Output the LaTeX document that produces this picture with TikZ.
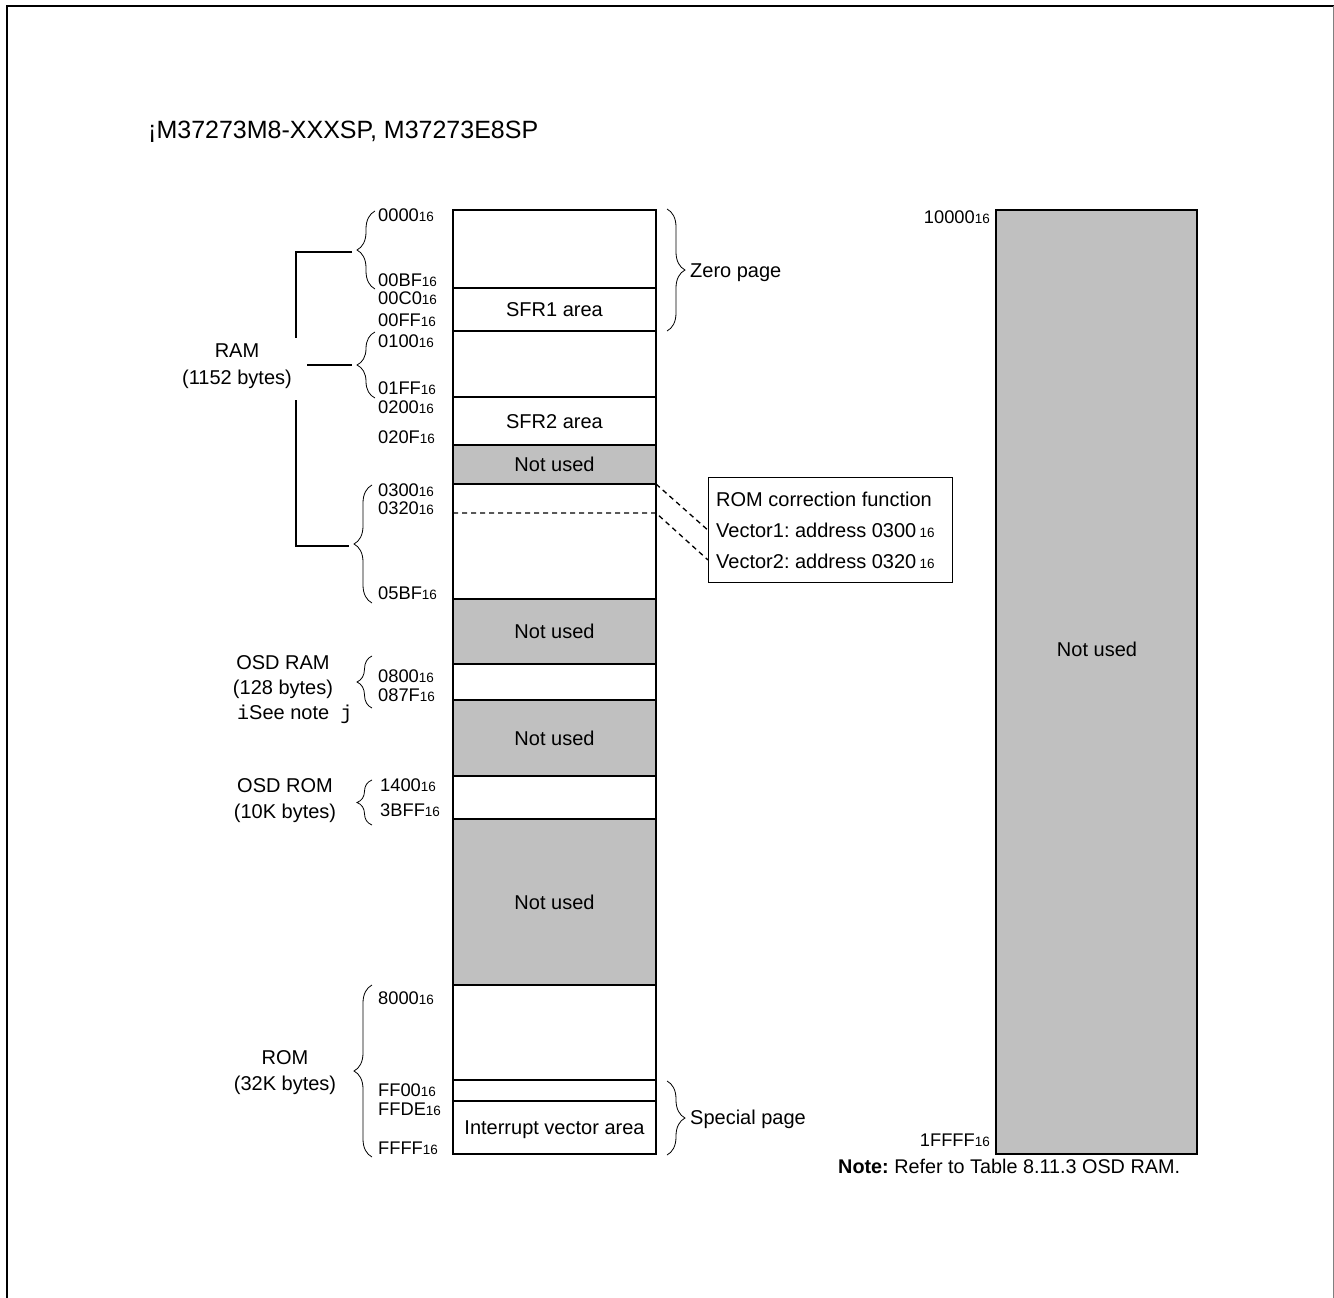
\documentclass[tikz,border=0pt]{standalone}
\usepackage{fontspec}
\setmainfont{Liberation Sans}
\newfontfamily\monofnt{Liberation Mono}
\usetikzlibrary{decorations.pathreplacing}
\definecolor{lgray}{RGB}{192,192,192}
\newcommand\sx[1]{{\fontsize{13.5}{13.5}\selectfont #1}}
\frenchspacing
\begin{document}
\frenchspacing
\begin{tikzpicture}[x=1pt,y=-1pt,
  blk/.style={draw=black, line width=1.9pt, minimum width=203pt, inner sep=0pt, outer sep=0pt,
    anchor=north west, font=\fontsize{20}{20}\selectfont, text height=14.3pt, text depth=0pt},
  unused/.style={blk, fill=lgray},
  lbl/.style={inner sep=0pt, font=\fontsize{20}{20}\selectfont, text height=14.3pt, text depth=0pt},
  addr/.style={inner sep=0pt, anchor=west, font=\fontsize{18.3}{18.3}\selectfont, text height=13pt, text depth=0pt},
  brc/.style={decorate, decoration={brace, amplitude=18pt}, line width=0.8pt},
  sbrc/.style={decorate, decoration={brace, amplitude=15pt}, line width=0.8pt},
  conn/.style={line width=1.2pt},
  dsh/.style={line width=1.3pt, dash pattern=on 5pt off 4pt}]
\useasboundingbox (0,0) rectangle (1334,1298);
\fill[white] (0,0) rectangle (1334,1298);
% frame
\draw[line width=2.5pt] (7,1299) -- (7,6) -- (1334,6);
\draw[line width=1pt, gray] (1333,6) -- (1333,1299);

% title
\node[anchor=base west, inner sep=0pt, font=\fontsize{25}{25}\selectfont] (title) at (148,139) {¡M37273M8-XXXSP, M37273E8SP};

% memory map column
\node[blk, minimum height=78pt] (b1) at (453,210) {};
\node[blk, minimum height=43pt] (b2) at (453,288) {SFR1 area};
\node[blk, minimum height=66pt] (b3) at (453,331) {};
\node[blk, minimum height=48pt] (b4) at (453,397) {SFR2 area};
\node[unused, minimum height=39pt] (b5) at (453,445) {Not used};
\node[blk, minimum height=115pt] (b6) at (453,484) {};
\node[unused, minimum height=65pt] (b7) at (453,599) {Not used};
\node[blk, minimum height=36pt] (b8) at (453,664) {};
\node[unused, minimum height=76pt] (b9) at (453,700) {Not used};
\node[blk, minimum height=43pt] (b10) at (453,776) {};
\node[unused, minimum height=166pt] (b11) at (453,819) {Not used};
\node[blk, minimum height=95pt] (b12) at (453,985) {};
\node[blk, minimum height=21pt] (b13) at (453,1080) {};
\node[blk, minimum height=53pt] (b14) at (453,1101) {Interrupt vector area};

% right column
\node[unused, minimum width=201pt, minimum height=944pt] (rb) at (996,210) {};
\node[lbl] (rbt) at (1097,649) {Not used};
\node[addr, anchor=east] (a10000) at (990,217) {10000\sx{16}};
\node[addr, anchor=east] (a1FFFF) at (990,1140) {1FFFF\sx{16}};

% ROM correction box
\node[draw, line width=1.4pt, minimum width=244pt, minimum height=105pt, anchor=north west, inner sep=0pt] (rcf) at (708,477) {};
\node[lbl, anchor=west] (rc1) at (716,499) {ROM correction function};
\node[lbl, anchor=west] (rc2) at (716,530) {Vector1: address 0300\,\sx{16}};
\node[lbl, anchor=west] (rc3) at (716,561) {Vector2: address 0320\,\sx{16}};
\coordinate (dA) at (453,513);
\coordinate (dB) at (656,513);
\coordinate (d2) at (708,560);
\draw[dsh] (b6.north east) -- (rcf.west);
\draw[dsh] (dA) -- (dB) -- (d2);

% address labels
\node[addr] (l0000) at (378,215) {0000\sx{16}};
\node[addr] (l00BF) at (378,280) {00BF\sx{16}};
\node[addr] (l00C0) at (378,298) {00C0\sx{16}};
\node[addr] (l00FF) at (378,320) {00FF\sx{16}};
\node[addr] (l0100) at (378,341) {0100\sx{16}};
\node[addr] (l01FF) at (378,388) {01FF\sx{16}};
\node[addr] (l0200) at (378,407) {0200\sx{16}};
\node[addr] (l020F) at (378,437) {020F\sx{16}};
\node[addr] (l0300) at (378,490) {0300\sx{16}};
\node[addr] (l0320) at (378,508) {0320\sx{16}};
\node[addr] (l05BF) at (378,593) {05BF\sx{16}};
\node[addr] (l0800) at (378,676) {0800\sx{16}};
\node[addr] (l087F) at (378,695) {087F\sx{16}};
\node[addr] (l1400) at (380,785) {1400\sx{16}};
\node[addr] (l3BFF) at (380,810) {3BFF\sx{16}};
\node[addr] (l8000) at (378,998) {8000\sx{16}};
\node[addr] (lFF00) at (378,1090) {FF00\sx{16}};
\node[addr] (lFFDE) at (378,1109) {FFDE\sx{16}};
\node[addr] (lFFFF) at (378,1148) {FFFF\sx{16}};

% left braces
\draw[brc] (375,289) -- (375,211);
\draw[brc] (375,398) -- (375,332);
\draw[brc] (372,603) -- (372,485);
\draw[sbrc] (372,708) -- (372,656);
\draw[sbrc] (372,825) -- (372,780);
\draw[brc] (372,1157) -- (372,985);
% right braces
\draw[brc] (667,209) -- (667,331);
\draw[brc] (667,1081) -- (667,1155);

% RAM bracket
\coordinate (t1) at (352,252);
\coordinate (t2) at (352,365);
\coordinate (t3) at (349,546);
\coordinate (r1) at (296,252);
\coordinate (r2) at (296,338);
\coordinate (r3) at (296,400);
\coordinate (r4) at (296,546);
\coordinate (m2) at (307,365);
\draw[conn] (t1) -- (r1) -- (r2);
\draw[conn] (r3) -- (r4) -- (t3);
\draw[conn] (m2) -- (t2);

% left labels
\node[lbl] (ram1) at (237,350) {RAM};
\node[lbl] (ram2) at (237,377) {(1152 bytes)};
\node[lbl] (osr1) at (283,662) {OSD RAM};
\node[lbl] (osr2) at (283,687) {(128 bytes)};
\node[lbl, anchor=west] (osr3) at (237,712) {{\monofnt i}See note\ \ {\monofnt j}};
\node[lbl] (oso1) at (285,785) {OSD ROM};
\node[lbl] (oso2) at (285,811) {(10K bytes)};
\node[lbl] (rom1) at (285,1057) {ROM};
\node[lbl] (rom2) at (285,1083) {(32K bytes)};

% right labels
\node[lbl, anchor=west] (zp) at (690,270) {Zero page};
\node[lbl, anchor=west] (sp) at (690,1117) {Special page};

% note
\node[lbl, anchor=west, font=\fontsize{19.8}{19.8}\selectfont] (note) at (838,1166) {\textbf{Note:} Refer to Table 8.11.3 OSD RAM.};
\end{tikzpicture}
\end{document}
